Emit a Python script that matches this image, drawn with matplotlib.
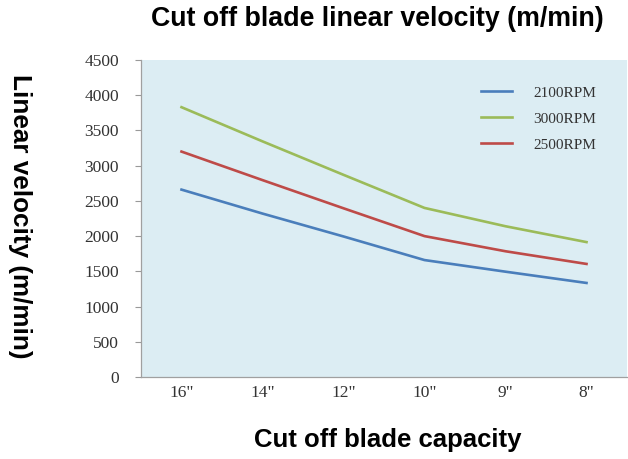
import matplotlib
matplotlib.use("Agg")
import matplotlib.pyplot as plt

categories = ['16"', '14"', '12"', '10"', '9"', '8"']
rpm_2100 = [2660, 2320, 1995, 1660, 1495, 1335]
rpm_3000 = [3830, 3345, 2870, 2400, 2140, 1915]
rpm_2500 = [3200, 2795, 2395, 2000, 1785, 1605]
y_ticks = [0, 500, 1000, 1500, 2000, 2500, 3000, 3500, 4000, 4500]

title = "Cut off blade linear velocity (m/min)"
xlabel = "Cut off blade capacity"
ylabel = "Linear velocity (m/min)"

fig = plt.figure(figsize=(6.28, 4.59), dpi=100)
ax = fig.add_axes([141/628, 1-377/459, (627-141)/628, (377-60)/459])
ax.set_facecolor("#dcedf3")

x = list(range(len(categories)))
ax.plot(x, rpm_2100, color="#4a7ebb", lw=1.9, label="2100RPM")
ax.plot(x, rpm_3000, color="#9bbb59", lw=1.9, label="3000RPM")
ax.plot(x, rpm_2500, color="#be4b48", lw=1.9, label="2500RPM")

ax.set_xlim(-0.5, len(categories) - 0.5)
ax.set_ylim(0, 4500)
ax.set_yticks(y_ticks)
ax.set_xticks(x)
ax.set_xticklabels(categories)

serif = "Liberation Serif"
for lab in ax.get_yticklabels() + ax.get_xticklabels():
    lab.set_fontfamily(serif)
    lab.set_fontsize(12.5)
    lab.set_color("#333333")

ax.tick_params(axis="y", length=4, width=0.8, color="#999999", pad=12)
ax.tick_params(axis="x", length=0, pad=6)
for s in ["top", "right"]:
    ax.spines[s].set_visible(False)
for s in ["left", "bottom"]:
    ax.spines[s].set_color("#a0a0a0")
    ax.spines[s].set_linewidth(0.9)

fig.text(377/628, 1-19/459, title, ha="center", va="center",
         fontsize=19.3, fontweight="bold", family="Liberation Sans")
fig.text(388/628, 1-440/459, xlabel, ha="center", va="center",
         fontsize=18.5, fontweight="bold", family="Liberation Sans")
fig.text(20/628, 1-216/459, ylabel, ha="center", va="center", rotation=-90,
         fontsize=18.8, fontweight="bold", family="Liberation Sans")

leg = ax.legend(loc="upper left", bbox_to_anchor=(481/628, 1-86/459),
                bbox_transform=fig.transFigure, frameon=False,
                prop={"family": serif, "size": 11},
                handlelength=2.0, handletextpad=1.4, labelspacing=0.8,
                borderpad=0, borderaxespad=0)
for t in leg.get_texts():
    t.set_color("#333333")

fig.savefig("out.png", dpi=100)
